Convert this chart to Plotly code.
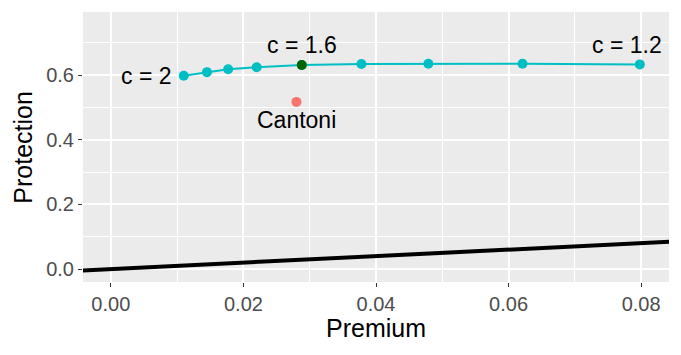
import plotly.graph_objects as go

# curve of (premium, protection) for a range of c values
premium = [0.0110, 0.0145, 0.0177, 0.0220, 0.0288, 0.0378, 0.0479, 0.0621, 0.0798]
protection = [0.598, 0.609, 0.618, 0.624, 0.631, 0.634, 0.635, 0.635, 0.633]

highlight_x = [0.0288]
highlight_y = [0.631]

cantoni_x = [0.0280]
cantoni_y = [0.517]

# identity line, protection = premium
diag = [-0.01, 0.1]

labels = ['c = 2', 'c = 1.6', 'c = 1.2']
label_x = [premium[0], highlight_x[0], premium[-1]]
label_y = [protection[0], highlight_y[0], protection[-1]]

font = 'Liberation Sans, Arial, sans-serif'

fig = go.Figure()
fig.add_trace(go.Scatter(x=diag, y=diag, mode='lines',
                         line=dict(color='black', width=4)))
fig.add_trace(go.Scatter(x=premium, y=protection, mode='lines+markers',
                         line=dict(color='#00BFC4', width=2),
                         marker=dict(color='#00BFC4', size=10)))
fig.add_trace(go.Scatter(x=highlight_x, y=highlight_y, mode='markers',
                         marker=dict(color='#006400', size=10)))
fig.add_trace(go.Scatter(x=cantoni_x, y=cantoni_y, mode='markers',
                         marker=dict(color='#F8766D', size=10)))

# text labels
lab_font = dict(size=23, color='black', family=font)
fig.add_annotation(x=label_x[0], y=label_y[0], text=labels[0], showarrow=False,
                   xanchor='right', xshift=-10, font=lab_font)
fig.add_annotation(x=label_x[1], y=label_y[1], text=labels[1], showarrow=False,
                   yshift=20, font=lab_font)
fig.add_annotation(x=label_x[2], y=label_y[2], text=labels[2], showarrow=False,
                   xanchor='center', xshift=-13, yshift=19, font=lab_font)
fig.add_annotation(x=cantoni_x[0], y=cantoni_y[0], text='Cantoni', showarrow=False,
                   yshift=-18, font=lab_font)

# axis titles
title_font = dict(size=25, color='black', family=font)
fig.add_annotation(xref='paper', yref='paper', x=0.5, y=-0.172, yanchor='middle',
                   text='Premium', showarrow=False, font=title_font)
fig.add_annotation(xref='paper', yref='paper', x=-0.103, y=0.5, xanchor='center',
                   text='Protection', textangle=-90, showarrow=False, font=title_font)

axis_common = dict(
    showgrid=True, gridcolor='white', gridwidth=1.8,
    zeroline=False, showline=False, automargin=False,
    ticks='outside', ticklen=4, tickwidth=1.4, tickcolor='#333333',
    tickfont=dict(size=20, color='#4D4D4D', family=font),
)

fig.update_xaxes(range=[-0.0042, 0.0842], tickvals=[0, 0.02, 0.04, 0.06, 0.08],
                 ticktext=['0.00', '0.02', '0.04', '0.06', '0.08'],
                 minor=dict(tickvals=[0.01, 0.03, 0.05, 0.07], showgrid=True,
                            gridcolor='white', gridwidth=0.9, ticks=''),
                 **axis_common)
fig.update_yaxes(range=[-0.040, 0.795], tickvals=[0, 0.2, 0.4, 0.6],
                 ticktext=['0.0', '0.2', '0.4', '0.6'],
                 minor=dict(tickvals=[0.1, 0.3, 0.5, 0.7], showgrid=True,
                            gridcolor='white', gridwidth=0.9, ticks=''),
                 **axis_common)

# the page body adds an 8px offset, so the figure is sized to fit the window
fig.update_layout(
    width=673, height=347,
    margin=dict(l=75, r=12, t=4, b=73),
    plot_bgcolor='#EBEBEB', paper_bgcolor='white',
    showlegend=False,
)

fig.write_html('out.html')
